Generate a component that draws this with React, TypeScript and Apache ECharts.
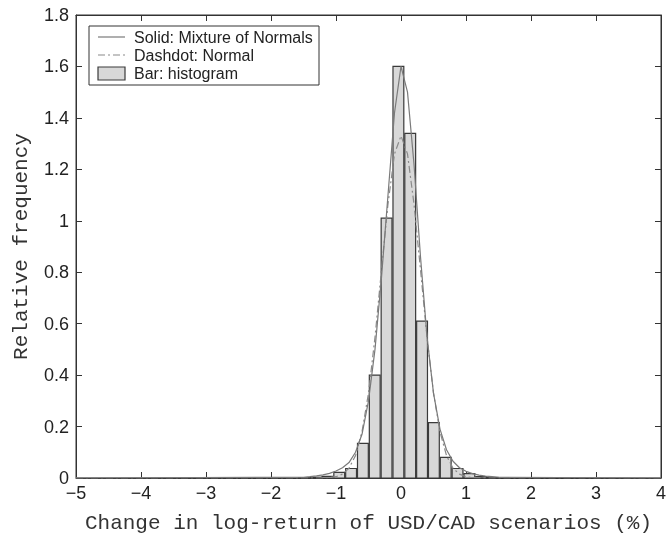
import React, { useEffect, useRef } from "react";
import * as echarts from "echarts";

// Histogram bins (centers, %) and relative frequencies
const binCenters = [-1.496, -1.314, -1.132, -0.95, -0.768, -0.586, -0.404, -0.222, -0.04, 0.142, 0.324, 0.506, 0.688, 0.87, 1.052, 1.234, 1.416];
const binHeights = [0.001, 0.003, 0.006, 0.022, 0.037, 0.135, 0.40, 1.01, 1.60, 1.34, 0.61, 0.215, 0.08, 0.037, 0.017, 0.005, 0.002];
const binWidth = 0.182;

// Curve sample points
const curveX = [-5, -1.5, -1.4, -1.3, -1.2, -1.1, -1.0, -0.9, -0.8, -0.7, -0.6, -0.5, -0.4, -0.3, -0.2, -0.1, 0, 0.1, 0.2, 0.3, 0.4, 0.5, 0.6, 0.7, 0.8, 0.9, 1.0, 1.1, 1.2, 1.3, 1.4, 1.5, 4];
const mixtureY = [0, 0.003, 0.005, 0.008, 0.012, 0.018, 0.027, 0.04, 0.06, 0.10, 0.17, 0.30, 0.50, 0.78, 1.10, 1.42, 1.60, 1.50, 1.22, 0.86, 0.55, 0.33, 0.19, 0.11, 0.065, 0.04, 0.026, 0.017, 0.011, 0.007, 0.005, 0.003, 0];
const normalY = [0, 0, 0, 0, 0.0004, 0.0015, 0.005, 0.015, 0.038, 0.087, 0.18, 0.33, 0.547, 0.81, 1.065, 1.26, 1.33, 1.26, 1.065, 0.81, 0.547, 0.33, 0.18, 0.087, 0.038, 0.015, 0.005, 0.0015, 0.0004, 0, 0, 0, 0];

const xTickMin = -5;
const xTickMax = 4;
const yTickMax = 1.8;

const legendItems = ["Solid: Mixture of Normals", "Dashdot: Normal", "Bar: histogram"];

const TICK_FONT = "'Liberation Sans', Arial, Helvetica, sans-serif";
const NAME_FONT = "'Liberation Mono', 'Courier New', monospace";
const FRAME = "#333333";

export default function App() {
  const ref = useRef<HTMLDivElement>(null);
  useEffect(() => {
    if (!ref.current) return;
    const chart = echarts.init(ref.current, null, { renderer: "svg" });
    const fmtX = (v: number) => (v < 0 ? "\u2212" + Math.abs(v) : String(v));
    const fmtY = (v: number) => String(Math.round(v * 10) / 10);
    const tickStyle = { show: true, inside: true, length: 6, lineStyle: { color: FRAME, width: 1 } };
    const lineStyleAxis = { show: true, onZero: false, lineStyle: { color: FRAME, width: 1 } };
    const hist = binCenters.map((c, i) => [c, binHeights[i]]);
    chart.setOption({
      animation: false,
      grid: { left: 76, right: 3, top: 15, bottom: 60, show: true, borderColor: FRAME, borderWidth: 1, backgroundColor: "transparent" },
      xAxis: [
        {
          type: "value", min: xTickMin, max: xTickMax, interval: 1, position: "bottom",
          name: "Change in log-return of USD/CAD scenarios (%)", nameLocation: "middle", nameGap: 35,
          nameTextStyle: { fontFamily: NAME_FONT, fontSize: 21, color: "#333" },
          axisLine: lineStyleAxis,
          axisTick: tickStyle,
          axisLabel: { formatter: fmtX, fontFamily: TICK_FONT, fontSize: 18, color: "#222", margin: 6 },
          splitLine: { show: false },
        },
        {
          type: "value", min: xTickMin, max: xTickMax, interval: 1, position: "top", show: true,
          axisLine: lineStyleAxis,
          axisTick: tickStyle, axisLabel: { show: false }, splitLine: { show: false },
        },
      ],
      yAxis: [
        {
          type: "value", min: 0, max: yTickMax, interval: 0.2, position: "left",
          name: "Relative frequency", nameLocation: "middle", nameGap: 44,
          nameTextStyle: { fontFamily: NAME_FONT, fontSize: 21, color: "#333" },
          axisLine: lineStyleAxis,
          axisTick: tickStyle,
          axisLabel: { formatter: fmtY, fontFamily: TICK_FONT, fontSize: 18, color: "#222", margin: 7 },
          splitLine: { show: false },
        },
        {
          type: "value", min: 0, max: yTickMax, interval: 0.2, position: "right", show: true,
          axisLine: lineStyleAxis,
          axisTick: tickStyle, axisLabel: { show: false }, splitLine: { show: false },
        },
      ],
      series: [
        {
          type: "custom",
          data: hist,
          z: 2,
          renderItem: (params: any, api: any) => {
            const c = api.value(0);
            const h = api.value(1);
            const p0 = api.coord([c - binWidth / 2, h]);
            const p1 = api.coord([c + binWidth / 2, 0]);
            return {
              type: "rect",
              shape: { x: p0[0] + 0.5, y: p0[1], width: p1[0] - p0[0] - 1, height: p1[1] - p0[1] },
              style: { fill: "#d8d8d8", stroke: "#3a3a3a", lineWidth: 1.2 },
            };
          },
        },
        {
          type: "line",
          data: curveX.map((x, i) => [x, normalY[i]]),
          showSymbol: false,
          z: 3,
          lineStyle: { color: "#8a8a8a", width: 1.2, type: [7, 3, 2, 3] },
        },
        {
          type: "line",
          data: curveX.map((x, i) => [x, mixtureY[i]]),
          showSymbol: false,
          z: 4,
          lineStyle: { color: "#7a7a7a", width: 1.2, type: "solid" },
        },
        {
          type: "line",
          xAxisIndex: 1,
          yAxisIndex: 1,
          data: [],
          showSymbol: false,
          silent: true,
        },
      ],
      graphic: [
        { type: "rect", shape: { x: 89, y: 26, width: 230, height: 59 }, style: { fill: "#fff", stroke: FRAME, lineWidth: 1 }, z: 10 },
        { type: "line", shape: { x1: 98, y1: 37, x2: 125, y2: 37 }, style: { stroke: "#7a7a7a", lineWidth: 1.2 }, z: 11 },
        { type: "line", shape: { x1: 98, y1: 55, x2: 125, y2: 55 }, style: { stroke: "#8a8a8a", lineWidth: 1.2, lineDash: [7, 3, 2, 3] }, z: 11 },
        { type: "rect", shape: { x: 98, y: 67, width: 27, height: 13 }, style: { fill: "#d8d8d8", stroke: "#3a3a3a", lineWidth: 1.2 }, z: 11 },
        ...legendItems.map((t, i) => ({
          type: "text", x: 134, y: 37 + i * 18, z: 11,
          style: { text: t, fontFamily: TICK_FONT, fontSize: 16, fill: "#222", verticalAlign: "middle" },
        })),
      ],
    });
    return () => chart.dispose();
  }, []);
  return <div ref={ref} style={{ position: "fixed", left: 0, top: 0, width: 669, height: 539 }} />;
}
